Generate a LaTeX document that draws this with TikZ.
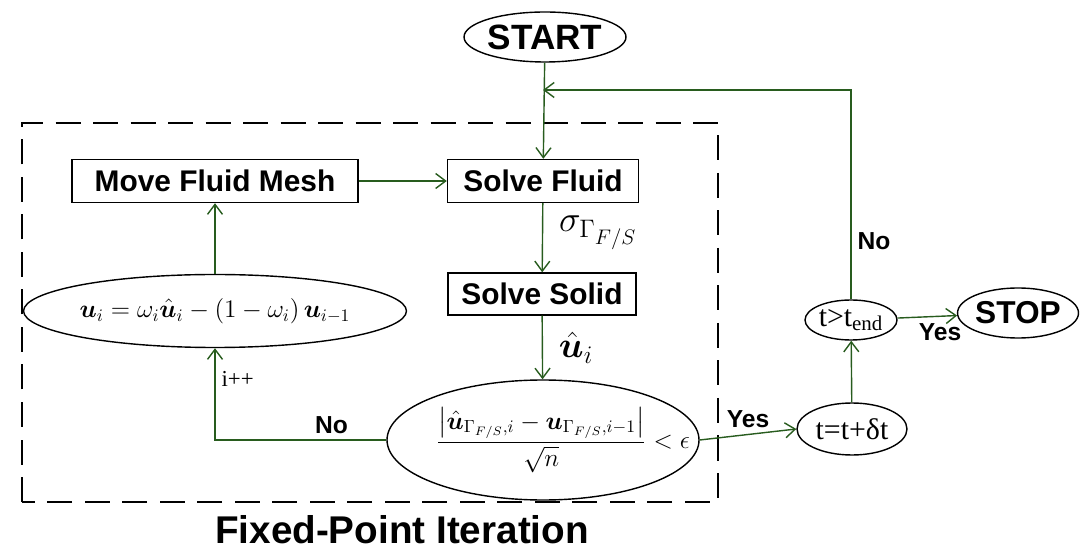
\documentclass[tikz,border=0pt]{standalone}
\usepackage{bm}
\usepackage{amsmath,amssymb}
\usepackage{fontspec}
\setmainfont{Liberation Serif}
\newfontfamily\arialfont{Liberation Sans}
\newfontfamily\timesfont{Liberation Serif}
\usetikzlibrary{arrows.meta,shapes.geometric}
\definecolor{flowgreen}{RGB}{40,92,30}

\begin{document}
\begin{tikzpicture}[
		box/.style={draw,thick,inner sep=0pt,font=\arialfont\bfseries\fontsize{17}{20}\selectfont},
		oval/.style={draw,ellipse,thick,inner sep=0pt},
		flow/.style={draw=flowgreen,thick,-{Straight Barb[length=2mm,width=3mm]}},
		lbl/.style={font=\arialfont\bfseries\fontsize{14}{16}\selectfont},
		serif/.style={font=\timesfont\fontsize{17}{20}\selectfont}
	]
		\useasboundingbox (0,0) rectangle (21.72,11);
		\node[oval,minimum width=3.16cm,minimum height=1cm,font=\arialfont\bfseries\fontsize{20}{22}\selectfont] (start) at (10.9,10.26) {START};
		\draw[thick,dashed,dash pattern=on 5mm off 2.5mm] (0.44,0.96) rectangle (14.36,8.54);
		\node[box,minimum width=5.72cm,minimum height=0.86cm] (mesh) at (4.3,7.38) {Move Fluid Mesh};
		\node[box,minimum width=3.82cm,minimum height=0.86cm] (fluid) at (10.86,7.38) {Solve Fluid};
		\node[box,minimum width=3.76cm,minimum height=0.84cm] (solid) at (10.84,5.12) {Solve Solid};
		\node[oval,minimum width=7.24cm,minimum height=1.46cm,font=\Large] (relax) at (4.3,4.78) {$\bm{u}_i=\omega_i\hat{\bm{u}}_i-\left(1-\omega_i\right)\bm{u}_{i-1}$};
		\node[oval,minimum width=6.24cm,minimum height=2.4cm,label={[font=\Large,xshift=4mm]center:$\dfrac{\left|\hat{\bm{u}}_{\Gamma_{F/S},i}-\bm{u}_{\Gamma_{F/S},i-1}\right|}{\sqrt{n}}<\epsilon$}] (conv) at (10.86,2.2) {};
		\node[oval,serif,minimum width=2.2cm,minimum height=1.04cm] (tstep) at (17.04,2.42) {t=t+δt};
		\node[oval,serif,minimum width=1.84cm,minimum height=0.8cm] (tend) at (17.02,4.6) {t>t\textsubscript{end}};
		\node[oval,minimum width=2.26cm,minimum height=1cm,font=\arialfont\bfseries\fontsize{18}{20}\selectfont] (stop) at (20.36,4.74) {STOP};
		\node[font=\arialfont\bfseries\fontsize{22}{25}\selectfont] (fpi) at (8.04,0.4) {Fixed-Point Iteration};
		\coordinate (join) at (10.86,9.2);
		\draw[flow] (start) -- (fluid);
		\draw[flow] (mesh) -- (fluid);
		\draw[flow] (fluid) -- node[right,font=\huge,xshift=2mm,yshift=1mm]{$\sigma_{\Gamma_{F/S}}$} (solid);
		\draw[flow] (solid) -- node[right,font=\huge,xshift=2mm]{$\hat{\bm{u}}_i$} (conv);
		\draw[flow] (conv.west) -| node[lbl,above,pos=0.16]{No} node[right,pos=0.83,font=\timesfont\fontsize{13}{15}\selectfont]{i++} (relax.south);
		\draw[flow] (relax) -- (mesh);
		\draw[flow] (conv.east) -- node[lbl,above]{Yes} (tstep.west);
		\draw[flow] (tstep) -- (tend);
		\draw[flow] (tend) -- node[lbl,anchor=north west,xshift=-3mm]{Yes} (stop);
		\draw[flow] (tend) |- node[lbl,right,pos=0.14]{No} (join);
	\end{tikzpicture}
\end{document}
